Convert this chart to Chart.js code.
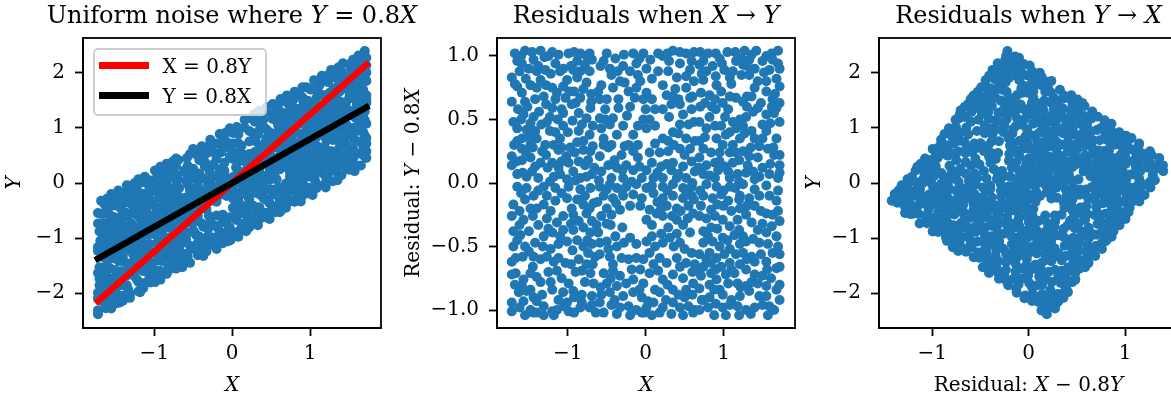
<!DOCTYPE html>
<html><head><meta charset="utf-8">
<script src="https://cdn.jsdelivr.net/npm/chart.js@4.4.1/dist/chart.umd.min.js"></script>
<style>
html,body{margin:0;padding:0;background:#fff;overflow:hidden;width:1171px;height:397px;}
#wrap{position:relative;width:1171px;height:397px;overflow:hidden;background:#fff;}
canvas{position:absolute;top:0;}
</style></head><body><div id="wrap">
<canvas id="c1" width="450" height="397" style="left:0px"></canvas>
<canvas id="c2" width="405" height="397" style="left:395px"></canvas>
<canvas id="c3" width="400" height="397" style="left:800px"></canvas>
</div>
<script>
// X values of the samples (horizontal axis)
const xValues = [
-1.68,-1.55,-1.59,-1.35,-1.44,-1.25,-1.12,-1.16,-0.99,-0.84,-0.76,-0.88,-0.78,-0.69,-0.93,-1.06,-1.10,-1.29,-1.40,-1.50,
-1.65,-1.72,-1.35,-1.01,-0.88,-0.76,-1.65,-1.48,-1.40,-1.20,-1.06,-1.14,-1.59,-1.55,-1.72,-1.31,-1.16,-1.03,-0.84,-0.95,
-1.20,-1.08,-1.57,-1.44,-1.48,-1.23,-1.06,-0.86,-0.76,-1.27,-1.06,-0.71,-1.65,-1.53,-1.42,-1.23,-0.86,-1.10,-1.59,-1.40,
-1.65,-1.48,-1.59,-1.29,-1.18,-1.33,-1.12,-0.91,-0.71,-0.80,-1.72,-1.59,-1.48,-1.35,-1.20,-1.08,-0.99,-0.86,-0.78,-1.72,
-1.42,-1.12,-0.93,-0.74,-1.65,-1.53,-1.38,-1.10,-1.01,-0.84,-0.69,-1.23,
-1.62,-1.46,-1.30,-0.96,-0.72,-1.52,-1.37,-0.92,-0.70,-1.70,-1.00,-0.80,-1.26,-0.66,-1.45,-0.97,-1.69,-1.13,-0.68,-1.58,
-0.50,-0.54,-0.39,-0.46,-0.44,-0.29,-0.16,-0.03,-0.12,-0.20,0.01,-0.10,0.16,0.22,0.35,0.52,0.44,0.59,0.57,0.16,
0.29,0.40,0.52,-0.57,-0.61,-0.59,-0.52,-0.59,-0.57,-0.54,-0.33,-0.42,-0.27,-0.07,-0.12,0.01,-0.22,-0.14,0.08,-0.03,
0.27,0.35,0.42,0.52,0.57,0.33,0.22,0.44,0.59,0.48,-0.35,-0.42,-0.46,-0.29,-0.37,-0.16,-0.03,0.05,0.01,0.12,
0.22,0.29,0.44,0.55,0.42,0.52,-0.54,-0.44,-0.27,-0.16,-0.31,-0.10,0.05,0.18,0.29,0.44,0.57,0.63,-0.59,-0.48,
-0.57,-0.37,-0.25,-0.16,0.01,0.08,0.20,0.33,0.48,0.59,-0.44,-0.29,-0.18,-0.05,0.10,0.22,0.40,0.52,0.63,
-0.08,0.30,0.62,-0.35,0.12,-0.22,0.35,-0.40,0.60,-0.60,
1.27,1.42,1.70,1.23,1.33,1.50,1.63,1.70,1.72,1.59,1.40,1.25,1.16,0.95,0.86,0.74,0.69,0.78,1.01,1.12,
1.08,1.23,1.33,1.72,1.72,1.68,1.63,1.55,1.44,1.40,1.36,1.25,1.16,1.48,1.65,1.55,1.44,1.38,1.29,1.21,
1.12,0.74,0.91,0.71,0.82,0.76,0.89,0.97,0.99,1.08,1.06,0.82,0.69,0.78,0.89,0.97,1.03,0.91,0.99,1.12,
1.21,1.16,1.27,1.36,1.40,1.50,1.55,1.46,1.57,1.68,1.65,1.72,0.69,0.74,0.69,0.84,0.78,0.89,1.08,1.16,
1.25,1.33,1.44,1.31,1.12,1.06,0.93,0.74,0.89,1.08,1.18,1.29,1.38,1.46,1.59,1.70,1.50,1.72,
1.55,1.05,0.80,1.68,0.90,1.30,1.60,0.70,1.20,0.95,
-1.65,-1.53,-1.31,-1.16,-0.99,-0.84,-0.71,-1.44,-1.27,-1.55,-1.70,-1.48,-1.31,-1.16,-1.01,-0.88,-0.80,-0.67,-1.72,-1.57,
-1.27,-1.06,-0.93,-0.86,-0.76,-0.69,-1.61,-1.65,-1.31,-1.20,-1.06,-0.93,-0.80,-0.71,-0.63,-1.12,-1.01,-0.88,-0.80,-0.69,
-1.72,-1.67,-1.50,-1.44,-1.35,-1.27,-1.12,-1.03,-0.86,-0.76,-0.65,-1.67,-1.57,-1.59,-1.48,-1.14,-1.08,-0.99,-0.82,-0.71,
-0.67,-1.63,-1.53,-1.44,-1.33,-1.20,-1.06,-0.93,-0.82,-0.69,-1.72,-1.57,-1.48,-1.40,-1.31,-1.20,-1.01,-0.82,-0.69,-1.72,
-1.44,-1.31,-1.14,-0.99,-0.84,
-1.40,-0.95,-1.62,-1.22,-0.74,-1.35,-0.90,-1.58,-1.05,-0.64,-1.68,-1.25,-1.50,-1.42,-1.55,-1.38,
-0.59,-0.46,-0.37,-0.25,-0.12,0.01,0.22,0.35,0.48,0.59,-0.54,-0.42,-0.29,-0.16,-0.05,0.10,0.22,0.35,0.48,0.59,
-0.33,-0.20,-0.07,0.05,0.14,0.27,0.40,0.55,0.61,-0.57,-0.44,0.01,0.08,0.22,0.29,0.40,0.48,0.57,-0.61,-0.59,
-0.50,-0.39,-0.37,-0.20,0.08,0.01,0.12,0.22,0.31,0.44,0.50,0.59,-0.59,-0.46,-0.31,-0.22,-0.12,-0.03,0.18,0.27,
0.40,0.52,0.63,-0.54,-0.42,-0.33,-0.50,-0.37,-0.25,-0.16,-0.07,0.05,-0.03,0.16,0.22,0.35,0.48,0.61,0.12,0.18,
0.35,0.52,-0.57,-0.46,-0.29,-0.16,-0.05,0.03,-0.59,-0.44,-0.33,-0.22,-0.12,0.01,0.10,0.22,0.35,0.44,0.55,0.63,
-0.54,-0.37,-0.20,-0.05,0.08,0.18,0.33,0.48,0.61,
-0.45,0.40,-0.50,0.15,-0.28,0.50,-0.45,0.05,
0.78,0.91,1.08,1.25,0.74,0.86,0.97,1.06,1.21,1.33,1.46,1.59,1.68,0.71,0.84,1.21,1.40,1.55,1.63,0.69,
0.78,0.89,0.99,1.08,1.18,1.29,1.36,0.84,0.74,1.44,1.55,1.68,1.14,1.25,0.99,0.74,0.86,0.95,1.08,1.21,
1.29,1.46,1.57,1.70,0.69,0.82,0.91,1.01,1.16,1.25,1.36,1.48,1.63,1.72,0.74,0.84,0.97,1.08,1.21,1.40,
1.55,1.68,0.71,0.84,0.91,1.03,1.14,1.29,1.40,1.50,1.61,0.69,0.82,0.95,1.06,1.18,1.29,1.44,1.55,1.68,
0.74,0.82,0.99,1.10,1.21,1.33,1.46,1.55,1.59,0.69,0.80,0.99,1.08,1.18,1.29,1.40,1.03,1.57,
1.00,1.50,0.90,1.35,1.72,1.72,0.72,1.20,
-1.60,-1.20,-0.92,-0.72,-1.38,-1.22,-0.84,-1.68,-1.54,-1.28,-0.98,-0.80,-1.42,-1.64,-1.28,-0.90,-0.70,-1.50,-1.34,-0.94,
-0.82,-1.60,-1.16,-0.72,-1.28,-1.02,-0.68,-1.54,-1.66,-1.46,-1.18,-0.90,-0.76,-1.08,-0.88,
-0.58,-0.28,0.06,0.28,0.44,-0.36,0.08,0.22,0.38,0.62,-0.50,-0.20,0.00,0.30,0.62,-0.48,-0.10,0.12,0.36,0.50,
-0.30,-0.08,0.15,0.42,0.27,-0.52,-0.10,0.35,-0.24,0.60,
0.70,0.90,1.15,1.36,1.62,0.98,1.30,1.52,0.90,1.10,1.55,1.66,0.72,0.85,1.02,1.30,1.72,1.62,0.76,1.08,
1.50,1.64,1.35,1.20,0.95,0.82,1.02,1.40,1.60,1.72,0.68,1.25,
-1.60,-1.38,-1.08,-0.78,-1.62,-1.22,-0.72,-1.45,-1.14,-0.96,-1.70,-1.25,-1.10,-0.75,-1.70,-1.32,-0.94,-1.45,-1.18,-0.96,
-0.68,-1.72,-1.40,-1.22,-0.78,-1.48,-1.12,-0.92,-0.72,-1.62,-1.40,-0.92,-1.55,-1.18,
-0.50,-0.30,0.08,0.28,0.52,-0.62,-0.38,0.20,0.45,0.62,-0.50,-0.30,0.34,0.54,-0.48,0.20,0.36,-0.12,-0.42,-0.18,
0.10,0.44,0.60,-0.58,-0.08,0.28,0.42,0.60,-0.40,-0.02,0.26,
0.70,1.00,1.15,1.40,1.55,1.70,0.92,1.10,1.30,1.48,1.70,0.92,1.20,1.62,0.80,1.38,1.05,0.78,1.30,1.56,
1.72,0.66,1.10,0.90,1.36,1.72,1.22,0.88,1.50,0.88,1.20,1.65
];
// Residual Y − 0.8X of each sample (vertical axis)
const residualYonX = [
1.02,1.04,0.94,1.04,0.97,1.00,1.01,0.94,1.02,1.02,1.00,0.96,0.93,0.97,0.89,0.90,0.88,0.89,0.88,0.90,
0.96,0.83,0.81,0.81,0.83,0.79,0.76,0.77,0.75,0.75,0.76,0.71,0.71,0.64,0.64,0.68,0.66,0.67,0.67,0.62,
0.59,0.58,0.54,0.52,0.47,0.52,0.55,0.55,0.51,0.48,0.45,0.59,0.43,0.42,0.41,0.41,0.41,0.35,0.35,0.35,
0.33,0.30,0.27,0.30,0.30,0.25,0.26,0.24,0.25,0.26,0.21,0.18,0.20,0.16,0.16,0.17,0.16,0.17,0.14,0.14,
0.13,0.12,0.09,0.18,0.07,0.05,0.04,0.07,0.03,0.04,0.07,0.01,
0.88,1.03,0.99,0.92,0.88,0.60,0.56,0.72,0.70,0.48,0.40,0.33,0.12,0.12,0.28,0.28,0.30,0.50,0.45,0.08,
1.02,0.96,0.98,0.90,0.85,0.92,1.02,1.02,0.94,0.88,0.90,0.85,1.02,1.00,1.04,1.02,0.94,0.96,0.89,0.88,
0.88,0.83,0.84,0.77,0.72,0.66,0.58,0.51,0.43,0.35,0.80,0.75,0.79,0.80,0.75,0.71,0.72,0.67,0.66,0.66,
0.69,0.68,0.66,0.75,0.67,0.62,0.58,0.62,0.58,0.54,0.59,0.51,0.46,0.45,0.38,0.38,0.50,0.50,0.43,0.45,
0.35,0.33,0.46,0.46,0.39,0.35,0.30,0.30,0.29,0.25,0.22,0.20,0.24,0.24,0.25,0.27,0.27,0.33,0.21,0.14,
0.09,0.12,0.14,0.10,0.10,0.16,0.13,0.10,0.13,0.17,0.04,0.04,0.01,0.04,0.04,0.04,0.04,0.04,0.09,
0.98,0.96,1.03,0.66,0.58,0.30,0.16,0.18,0.00,0.02,
1.04,1.04,1.04,0.98,0.97,0.96,0.97,0.94,0.90,0.89,0.90,0.93,0.96,0.98,0.92,0.96,0.93,0.88,0.89,0.88,
0.83,0.85,0.85,0.76,0.63,0.59,0.66,0.72,0.80,0.75,0.68,0.64,0.67,0.63,0.55,0.54,0.59,0.56,0.52,0.50,
0.48,0.81,0.77,0.71,0.69,0.63,0.66,0.72,0.63,0.68,0.58,0.52,0.48,0.43,0.45,0.45,0.38,0.35,0.30,0.30,
0.35,0.43,0.39,0.41,0.35,0.35,0.41,0.29,0.27,0.35,0.22,0.22,0.33,0.27,0.20,0.24,0.14,0.16,0.24,0.24,
0.25,0.21,0.20,0.14,0.16,0.09,0.10,0.07,0.04,0.04,0.07,0.08,0.09,0.05,0.07,0.04,0.12,0.14,
1.00,1.03,1.02,0.82,0.58,0.60,0.47,0.60,0.01,0.24,
-0.03,-0.04,-0.03,-0.04,-0.03,-0.05,-0.04,-0.10,-0.10,-0.13,-0.17,-0.20,-0.17,-0.14,-0.12,-0.13,-0.17,-0.16,-0.26,-0.29,
-0.28,-0.26,-0.25,-0.30,-0.24,-0.30,-0.41,-0.45,-0.42,-0.39,-0.37,-0.37,-0.35,-0.39,-0.33,-0.48,-0.46,-0.45,-0.50,-0.48,
-0.62,-0.59,-0.54,-0.58,-0.60,-0.58,-0.59,-0.63,-0.60,-0.64,-0.58,-0.71,-0.76,-0.81,-0.71,-0.69,-0.75,-0.79,-0.69,-0.71,
-0.79,-0.86,-0.85,-0.90,-0.88,-0.84,-0.86,-0.85,-0.88,-0.89,-0.94,-0.93,-1.00,-0.93,-0.97,-1.01,-0.94,-0.94,-0.96,-1.01,
-1.02,-1.04,-1.00,-1.01,-0.98,
-0.20,-0.20,-0.33,-0.52,-0.55,-0.78,-0.70,-0.58,-0.97,-1.02,-0.80,-0.70,-0.38,-0.47,-0.50,-0.33,
-0.03,-0.01,-0.04,-0.03,-0.01,-0.04,-0.03,-0.01,-0.04,-0.03,-0.10,-0.12,-0.10,-0.09,-0.12,-0.08,-0.12,-0.10,-0.12,-0.10,
-0.21,-0.18,-0.18,-0.21,-0.24,-0.18,-0.20,-0.18,-0.24,-0.26,-0.25,-0.29,-0.33,-0.26,-0.35,-0.29,-0.33,-0.39,-0.39,-0.47,
-0.46,-0.42,-0.50,-0.43,-0.42,-0.46,-0.50,-0.47,-0.43,-0.47,-0.52,-0.55,-0.56,-0.58,-0.59,-0.60,-0.59,-0.60,-0.59,-0.63,
-0.59,-0.63,-0.64,-0.71,-0.69,-0.73,-0.79,-0.81,-0.79,-0.76,-0.68,-0.71,-0.79,-0.69,-0.76,-0.72,-0.75,-0.79,-0.84,-0.86,
-0.84,-0.84,-0.88,-0.86,-0.89,-0.86,-0.90,-0.93,-0.94,-0.96,-0.98,-0.97,-1.00,-0.98,-0.94,-0.98,-0.94,-0.98,-0.97,-1.00,
-1.02,-1.03,-1.04,-1.02,-1.04,-1.02,-1.03,-1.04,-1.02,
-0.33,-0.40,-0.20,-0.15,-0.47,-0.90,-0.75,-0.55,
-0.01,-0.03,-0.03,-0.01,-0.10,-0.12,-0.09,-0.14,-0.10,-0.12,-0.10,-0.10,-0.14,-0.18,-0.21,-0.20,-0.18,-0.24,-0.25,-0.26,
-0.28,-0.26,-0.29,-0.34,-0.29,-0.25,-0.31,-0.35,-0.38,-0.37,-0.39,-0.42,-0.41,-0.42,-0.43,-0.47,-0.46,-0.50,-0.52,-0.48,
-0.46,-0.47,-0.48,-0.50,-0.56,-0.55,-0.59,-0.56,-0.56,-0.55,-0.58,-0.56,-0.55,-0.56,-0.66,-0.63,-0.66,-0.63,-0.64,-0.62,
-0.62,-0.67,-0.73,-0.71,-0.76,-0.72,-0.71,-0.68,-0.72,-0.73,-0.75,-0.83,-0.80,-0.84,-0.79,-0.79,-0.81,-0.79,-0.81,-0.84,
-0.92,-0.90,-0.88,-0.92,-0.89,-0.85,-0.89,-0.89,-0.97,-1.00,-0.98,-0.98,-0.96,-0.97,-1.00,-0.98,-1.04,-1.04,
-0.18,-0.32,-0.95,-1.03,-0.80,-0.30,-0.92,-0.13,
1.00,1.03,1.03,1.02,0.92,0.86,0.88,0.78,0.82,0.77,0.72,0.74,0.66,0.58,0.62,0.63,0.64,0.36,0.46,0.49,
0.46,0.50,0.40,0.38,0.22,0.21,0.29,0.24,0.17,0.09,0.05,0.02,0.05,0.28,0.32,
0.92,1.01,0.97,1.02,1.03,0.88,0.82,0.77,0.74,0.80,0.66,0.60,0.58,0.52,0.48,0.28,0.30,0.31,0.30,0.22,
0.10,0.13,0.08,0.07,0.15,0.50,0.45,0.40,0.53,0.68,
1.03,1.02,1.03,1.01,1.02,0.94,0.92,0.87,0.84,0.78,0.80,0.70,0.86,0.60,0.52,0.68,0.48,0.60,0.36,0.40,
0.46,0.28,0.28,0.18,0.17,0.06,0.13,0.03,0.15,0.08,0.12,0.45,
-0.08,-0.06,-0.08,-0.10,-0.22,-0.22,-0.20,-0.26,-0.31,-0.32,-0.38,-0.36,-0.42,-0.45,-0.50,-0.50,-0.53,-0.66,-0.62,-0.64,
-0.64,-0.72,-0.74,-0.78,-0.78,-0.84,-0.92,-0.90,-0.98,-0.98,-1.02,-1.02,-1.04,-1.04,
-0.05,-0.06,-0.02,-0.06,-0.07,-0.15,-0.16,-0.20,-0.22,-0.13,-0.32,-0.35,-0.26,-0.28,-0.52,-0.40,-0.50,-0.48,-0.64,-0.68,
-0.64,-0.66,-0.70,-0.82,-0.84,-0.80,-0.88,-0.88,-0.92,-1.02,-0.92,
-0.06,-0.06,-0.04,-0.05,-0.02,-0.06,-0.17,-0.22,-0.18,-0.22,-0.22,-0.36,-0.37,-0.34,-0.42,-0.44,-0.45,-0.60,-0.60,-0.68,
-0.66,-0.68,-0.68,-0.68,-0.78,-0.92,-0.82,-0.84,-0.96,-1.04,-1.04,-1.00
];
// Tick values
const xTicks = [-1, 0, 1];
const yTicksXY = [-2, -1, 0, 1, 2];
const yTicksResidual = [-1, -0.5, 0, 0.5, 1];
// Fitted relations drawn on the first panel
const slopeYonX = 0.8;   // Y = 0.8X
const slopeXonY = 0.8;   // X = 0.8Y

const n = Math.min(xValues.length, residualYonX.length);
const yValues = [];
for (let i = 0; i < n; i++) yValues.push(slopeYonX * xValues[i] + residualYonX[i]);
const residualXonY = [];
for (let i = 0; i < n; i++) residualXonY.push(xValues[i] - slopeXonY * yValues[i]);

const ptsXY = [], ptsRes1 = [], ptsRes2 = [];
for (let i = 0; i < n; i++) {
  ptsXY.push({x: xValues[i], y: yValues[i]});
  ptsRes1.push({x: xValues[i], y: residualYonX[i]});
  ptsRes2.push({x: residualXonY[i], y: yValues[i]});
}
const xMin = Math.min(...xValues.slice(0, n)), xMax = Math.max(...xValues.slice(0, n));
const lineRed = [{x: xMin, y: xMin / slopeXonY}, {x: xMax, y: xMax / slopeXonY}];
const lineBlack = [{x: xMin, y: slopeYonX * xMin}, {x: xMax, y: slopeYonX * xMax}];

const FONT = "'DejaVu Serif', 'Liberation Serif', serif";
Chart.defaults.font.family = FONT;
Chart.defaults.color = '#000';
const BLUE = '#1f77b4';

function fmt(v, d) {
  const s = Math.abs(v).toFixed(d);
  return (v < 0 ? '\u2212' : '') + s;
}
function axis(min, max, ticks, dec, prop, size, pad) {
  return {
    type: 'linear', min: min, max: max,
    afterBuildTicks: s => { s.ticks = ticks.map(v => ({value: v})); },
    afterFit: s => { s[prop] = size; },
    grid: {drawOnChartArea: false, drawTicks: true, tickLength: 8, tickWidth: 1.8, tickColor: '#000'},
    border: {display: true, color: '#000', width: 1.8},
    ticks: {color: '#000', font: {family: FONT, size: 20}, padding: pad, autoSkip: false, maxRotation: 0,
            callback: v => fmt(v, dec)}
  };
}

function drawRich(ctx, segs, cx, y, size) {
  const fonts = segs.map(s => (s[1] ? 'italic ' : '') + size + 'px ' + FONT);
  let w = 0;
  const ws = segs.map((s, k) => { ctx.font = fonts[k]; const m = ctx.measureText(s[0]).width; w += m; return m; });
  let x = cx - w / 2;
  ctx.textAlign = 'left'; ctx.textBaseline = 'alphabetic'; ctx.fillStyle = '#000';
  segs.forEach((s, k) => { ctx.font = fonts[k]; ctx.fillText(s[0], x, y); x += ws[k]; });
}

const framePlugin = {
  id: 'frame',
  afterDatasetsDraw(chart) {
    const {ctx, chartArea: a} = chart;
    ctx.save(); ctx.strokeStyle = '#000'; ctx.lineWidth = 1.8;
    ctx.strokeRect(a.left, a.top, a.right - a.left, a.bottom - a.top);
    ctx.restore();
  }
};
const textPlugin = {
  id: 'richText',
  afterDraw(chart, args, o) {
    const {ctx, chartArea: a} = chart;
    ctx.save();
    const cx = (a.left + a.right) / 2, cy = (a.top + a.bottom) / 2;
    if (o.title) drawRich(ctx, o.title, cx, o.titleY, 24);
    if (o.xTitle) drawRich(ctx, o.xTitle, cx, o.xTitleY, 20);
    if (o.yTitle) {
      ctx.translate(o.yTitleX, cy); ctx.rotate(-Math.PI / 2);
      drawRich(ctx, o.yTitle, 0, 0, 20);
    }
    ctx.restore();
  }
};
const legendPlugin = {
  id: 'boxLegend',
  afterDraw(chart, args, o) {
    if (!o || !o.items) return;
    const {ctx, chartArea: a} = chart;
    const L = a.left + 11, T = a.top + 11, W = 172, H = 66;
    ctx.save();
    ctx.beginPath();
    if (ctx.roundRect) ctx.roundRect(L, T, W, H, 4); else ctx.rect(L, T, W, H);
    ctx.fillStyle = 'rgba(255,255,255,0.8)'; ctx.fill();
    ctx.lineWidth = 1.8; ctx.strokeStyle = '#cccccc'; ctx.stroke();
    o.items.forEach((lab, k) => {
      const ds = chart.data.datasets.find(d => d.label === lab);
      const yy = T + 16.5 + k * 30;
      ctx.fillStyle = ds.borderColor;
      ctx.fillRect(L + 5, yy - 3.5, 50, 7);
      ctx.fillStyle = '#000'; ctx.font = '20px ' + FONT;
      ctx.textAlign = 'left'; ctx.textBaseline = 'alphabetic';
      ctx.fillText(lab, L + 68.5, yy + 7.5);
    });
    ctx.restore();
  }
};

function baseOptions(xs, ys, pad, rich, legend) {
  return {
    responsive: false, animation: false, devicePixelRatio: 1,
    layout: {padding: pad},
    plugins: {legend: {display: false}, tooltip: {enabled: false}, title: {display: false},
              richText: rich, boxLegend: legend || {}},
    scales: {x: xs, y: ys}
  };
}
const scatterStyle = {backgroundColor: BLUE, borderColor: BLUE, pointRadius: 5, pointBorderWidth: 0, pointHoverRadius: 5};

new Chart(document.getElementById('c1'), {
  type: 'scatter',
  data: {datasets: [
    {label: 'Y = 0.8X', data: lineBlack, showLine: true, borderColor: '#000000', backgroundColor: '#000000',
     borderWidth: 6.5, pointRadius: 0, borderCapStyle: 'square', order: 0},
    {label: 'X = 0.8Y', data: lineRed, showLine: true, borderColor: '#ff0000', backgroundColor: '#ff0000',
     borderWidth: 6.5, pointRadius: 0, borderCapStyle: 'square', order: 1},
    Object.assign({label: 'samples', data: ptsXY, order: 2}, scatterStyle)
  ]},
  options: baseOptions(
    axis(-1.912, 1.908, xTicks, 0, 'height', 69, 6),
    axis(-2.636, 2.636, yTicksXY, 0, 'width', 83, 10),
    {left: 0, right: 69, top: 38, bottom: 0},
    {title: [['Uniform noise where ', 0], ['Y', 1], [' = 0.8', 0], ['X', 1]], titleY: 22.5,
     xTitle: [['X', 1]], xTitleY: 391, yTitle: [['Y', 1]], yTitleX: 20},
    {items: ['X = 0.8Y', 'Y = 0.8X']}),
  plugins: [framePlugin, legendPlugin, textPlugin]
});

new Chart(document.getElementById('c2'), {
  type: 'scatter',
  data: {datasets: [Object.assign({label: 'residuals', data: ptsRes1}, scatterStyle)]},
  options: baseOptions(
    axis(-1.91, 1.918, xTicks, 0, 'height', 69, 6),
    axis(-1.141, 1.141, yTicksResidual, 1, 'width', 102, 10),
    {left: 0, right: 4, top: 38, bottom: 0},
    {title: [['Residuals when ', 0], ['X', 1], [' \u2192 ', 0], ['Y', 1]], titleY: 22.5,
     xTitle: [['X', 1]], xTitleY: 391,
     yTitle: [['Residual: ', 0], ['Y', 1], [' \u2212 0.8', 0], ['X', 1]], yTitleX: 24}),
  plugins: [framePlugin, textPlugin]
});

new Chart(document.getElementById('c3'), {
  type: 'scatter',
  data: {datasets: [Object.assign({label: 'residuals', data: ptsRes2}, scatterStyle)]},
  options: baseOptions(
    axis(-1.553, 1.55, xTicks, 0, 'height', 69, 6),
    axis(-2.636, 2.636, yTicksXY, 0, 'width', 79, 10),
    {left: 0, right: 22, top: 38, bottom: 0},
    {title: [['Residuals when ', 0], ['Y', 1], [' \u2192 ', 0], ['X', 1]], titleY: 22.5,
     xTitle: [['Residual: ', 0], ['X', 1], [' \u2212 0.8', 0], ['Y', 1]], xTitleY: 391,
     yTitle: [['Y', 1]], yTitleX: 20}),
  plugins: [framePlugin, textPlugin]
});
</script>
</body></html>
